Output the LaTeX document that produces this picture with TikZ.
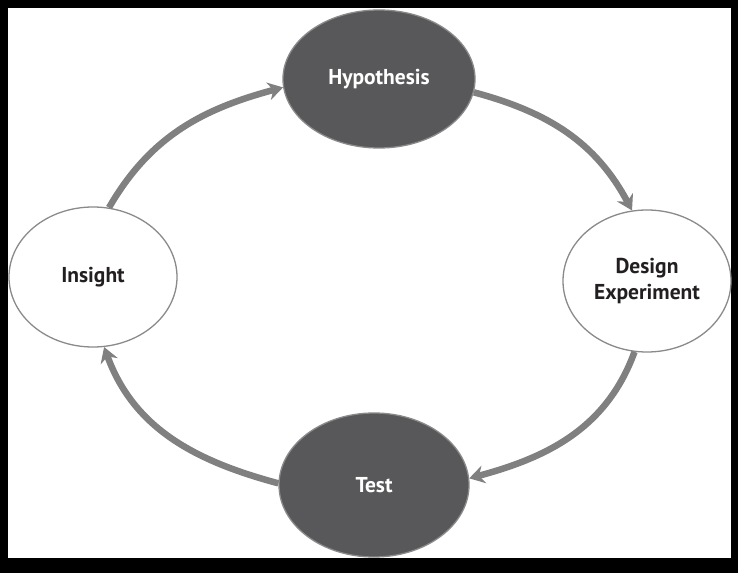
\documentclass[tikz,border=0pt]{standalone}
\usepackage{fontspec}
\setmainfont{PT Sans}
\usetikzlibrary{shapes.geometric,arrows.meta}
\definecolor{darkfill}{HTML}{58585A}
\definecolor{ringgray}{HTML}{8A8A8A}
\definecolor{flowgray}{HTML}{808080}
\definecolor{inkblack}{HTML}{231F20}
\begin{document}
\begin{tikzpicture}[x=1pt,y=1pt,
  stage/.style={ellipse,draw=ringgray,line width=1.3pt,inner sep=0pt,align=center,
    font=\fontsize{21.5}{26}\selectfont\bfseries},
  light/.style={stage,fill=white,text=inkblack},
  dark/.style={stage,fill=darkfill,text=white},
  flow/.style={draw=flowgray,line width=6.5pt,-{Stealth[length=15pt,width=18pt,inset=5pt]}}]
  \fill[black] (0,0) rectangle (738,573);
  \fill[white] (8,15) rectangle (731,565);
\node[dark,minimum width=192pt,minimum height=138pt] (hyp) at (379,494) {Hypothesis};
\node[light,minimum width=168pt,minimum height=140pt] (ins) at (93,296) {Insight};
\node[light,minimum width=168pt,minimum height=142pt] (des) at (647,292) {Design\\Experiment};
\node[dark,minimum width=190pt,minimum height=144pt] (tst) at (374,88) {Test};
\draw[flow] (ins.77) to[out=60,in=195] (hyp.185);
\draw[flow] (hyp.-8) to[out=-15,in=118] (des.102);
\draw[flow] (des.260) to[out=250,in=15] (tst.4);
\draw[flow] (tst.179) to[out=165,in=290] (ins.279);
\end{tikzpicture}
\end{document}
